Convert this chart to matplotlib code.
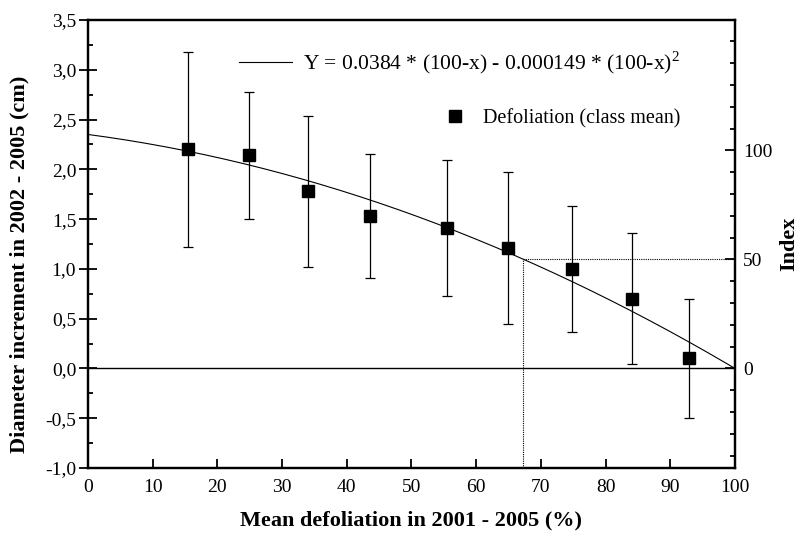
import numpy as np
import matplotlib
matplotlib.use('Agg')
import matplotlib.pyplot as plt
from matplotlib.ticker import MultipleLocator, FixedLocator, FuncFormatter
from matplotlib.lines import Line2D

plt.rcParams['font.family'] = ['Liberation Serif', 'DejaVu Serif']
plt.rcParams['mathtext.fontset'] = 'custom'
plt.rcParams['mathtext.rm'] = 'Liberation Serif'

# class means of defoliation and diameter increment (+/- error)
defol = [15.4, 24.9, 34.0, 43.6, 55.5, 64.9, 74.8, 84.1, 92.9]
incr = [2.20, 2.14, 1.78, 1.53, 1.41, 1.21, 1.00, 0.70, 0.10]
err = [0.98, 0.64, 0.76, 0.62, 0.68, 0.76, 0.63, 0.66, 0.60]

# fitted model: Y = a*(100-x) - b*(100-x)^2
a_coef = 0.0384
b_coef = 0.000149
index_full = 2.19      # increment equal to index 100
defol_50 = 67.2        # defoliation where index reaches 50
index_ticks = [0, 50, 100]

x_fit = np.linspace(0, 100, 201)
y_fit = a_coef * (100 - x_fit) - b_coef * (100 - x_fit) ** 2

fig = plt.figure(figsize=(8.03, 5.34), dpi=100)
ax = fig.add_axes([0.1096, 0.1236, 0.8057, 0.8390])

ax.plot(x_fit, y_fit, color='black', lw=0.8)
ax.errorbar(defol, incr, yerr=err, fmt='s', color='black', ms=9,
            ecolor='black', elinewidth=0.9, capsize=3.5, capthick=0.9)
ax.axhline(0, color='black', lw=1.0)

# dotted guide lines for index 50
ax.plot([defol_50, 100], [index_full / 2, index_full / 2], color='black', lw=0.8, ls=(0, (1, 1)))
ax.plot([defol_50, defol_50], [-1.0, index_full / 2], color='black', lw=0.8, ls=(0, (1, 1)))

ax.set_xlim(0, 100)
ax.set_ylim(-1.0, 3.5)
ax.xaxis.set_major_locator(MultipleLocator(10))
ax.yaxis.set_major_locator(MultipleLocator(0.5))
ax.yaxis.set_minor_locator(MultipleLocator(0.25))
ax.yaxis.set_major_formatter(FuncFormatter(lambda v, p: ('%.1f' % v).replace('.', ',')))

for s in ax.spines.values():
    s.set_linewidth(1.6)

ax.tick_params(axis='x', direction='in', length=6.5, width=1.3, labelsize=14, pad=8,
               top=False)
ax.tick_params(axis='y', which='major', direction='inout', length=13, width=1.3,
               labelsize=14, pad=2, right=False)
ax.tick_params(axis='y', which='minor', direction='in', length=3.5, width=1.3, right=False)

ax.set_xlabel('Mean defoliation in 2001 - 2005 (%)', fontsize=16, fontweight='bold', labelpad=10)
ax.set_ylabel('Diameter increment in 2002 - 2005 (cm)', fontsize=16, fontweight='bold')
ax.yaxis.set_label_coords(-0.09, 0.455)

ax2 = ax.twinx()
ax2.set_ylim(-1.0 / index_full * 100, 3.5 / index_full * 100)
ax2.yaxis.set_major_locator(FixedLocator(index_ticks))
ax2.yaxis.set_minor_locator(MultipleLocator(10))
ax2.tick_params(axis='y', which='major', direction='in', length=7, width=1.3, labelsize=14, pad=6)
ax2.tick_params(axis='y', which='minor', direction='in', length=3.5, width=1.3)
ax2.set_ylabel('Index', fontsize=16, fontweight='bold', labelpad=5)
for s in ax2.spines.values():
    s.set_linewidth(1.6)

# legend entries
h_line = Line2D([], [], color='black', lw=0.8)
h_mark = Line2D([], [], color='black', marker='s', ls='none', ms=9)
leg1 = ax.legend([h_line], [r'Y = 0.0384 * (100-x) - 0.000149 * (100-x)$^{2}$'],
                 loc='center left', bbox_to_anchor=(0.216, 0.905), frameon=False,
                 fontsize=15.5, handlelength=2.5, handletextpad=0.5, borderpad=0)
ax.add_artist(leg1)
ax.legend([h_mark], ['Defoliation (class mean)'], loc='center left',
          bbox_to_anchor=(0.536, 0.78), frameon=False, fontsize=14.5,
          handlelength=1.0, handletextpad=0.9, borderpad=0)

fig.savefig('out.png', dpi=100)
